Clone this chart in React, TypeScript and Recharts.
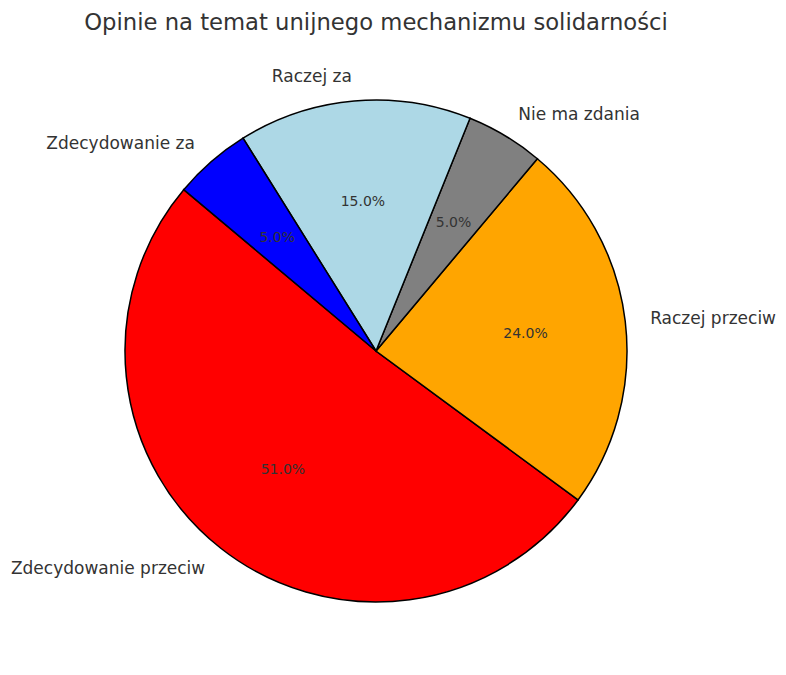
import { PieChart, Pie, Cell } from "recharts";

// slice order follows the reference (counter-clockwise from 140°)
const categories = [
  "Zdecydowanie przeciw",
  "Raczej przeciw",
  "Nie ma zdania",
  "Raczej za",
  "Zdecydowanie za",
];
const shares = [51, 24, 5, 15, 5];
const COLORS = ["#ff0000", "#ffa500", "#808080", "#add8e6", "#0000ff"];

const data = categories.map((name, i) => ({ name, value: shares[i] }));

const RADIAN = Math.PI / 180;
const FONT = "'DejaVu Sans', sans-serif";

function renderLabel(props: any) {
  const { cx, cy, midAngle, outerRadius, percent, name } = props;
  const cos = Math.cos(-midAngle * RADIAN);
  const sin = Math.sin(-midAngle * RADIAN);
  const ox = cx + outerRadius * 1.1 * cos;
  const oy = cy + outerRadius * 1.1 * sin;
  const ix = cx + outerRadius * 0.6 * cos;
  const iy = cy + outerRadius * 0.6 * sin;
  return (
    <g>
      <text
        x={ox}
        y={oy}
        fill="#333333"
        fontSize={17}
        fontFamily={FONT}
        textAnchor={ox > cx ? "start" : "end"}
        dominantBaseline="central"
      >
        {name}
      </text>
      <text
        x={ix}
        y={iy}
        fill="#333333"
        fontSize={14}
        fontFamily={FONT}
        textAnchor="middle"
        dominantBaseline="central"
      >
        {(percent * 100).toFixed(1)}%
      </text>
    </g>
  );
}

export default function App() {
  return (
    <div
      style={{
        position: "fixed",
        left: 0,
        top: 0,
        width: 786,
        height: 675,
        background: "#ffffff",
      }}
    >
      <PieChart
        width={786}
        height={675}
        margin={{ top: 0, right: 0, bottom: 0, left: 0 }}
      >
        <text
          x={376}
          y={22}
          textAnchor="middle"
          dominantBaseline="central"
          fontSize={22.7}
          fontFamily={FONT}
          fill="#333333"
        >
          Opinie na temat unijnego mechanizmu solidarności
        </text>
        <Pie
          data={data}
          dataKey="value"
          nameKey="name"
          cx={376}
          cy={351}
          outerRadius={251}
          startAngle={140}
          endAngle={500}
          stroke="#000000"
          strokeWidth={1.5}
          label={renderLabel}
          labelLine={false}
          isAnimationActive={false}
        >
          {data.map((_, index) => (
            <Cell key={`cell-${index}`} fill={COLORS[index % COLORS.length]} />
          ))}
        </Pie>
      </PieChart>
    </div>
  );
}
